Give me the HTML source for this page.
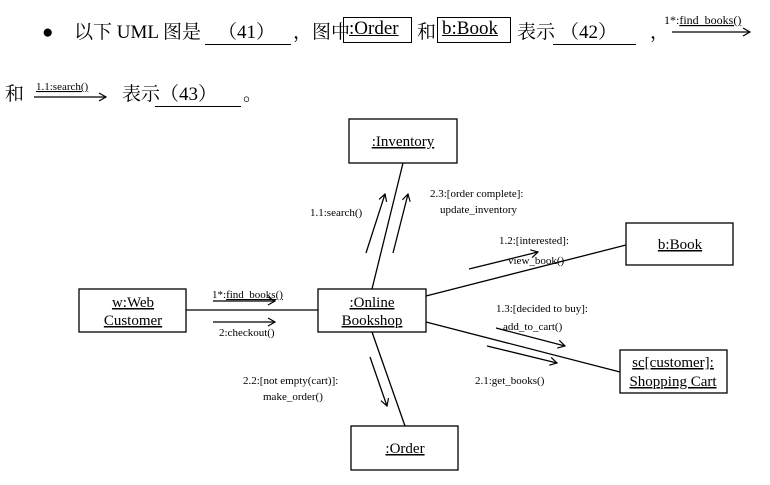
<!DOCTYPE html>
<html><head><meta charset="utf-8"><style>
body{margin:0;background:#fff;width:770px;height:485px;overflow:hidden;font-family:"Liberation Serif","Noto Serif CJK SC",serif;}
.t{position:absolutes;white-space:nowrap;color:#000}
.h{position:absolute;font-size:19px;line-height:22px;white-space:nowrap;color:#000}
.u{position:absolute;height:0;border-top:1.3px solid #000}
.b{position:absolute;border:1.3px solid #000}
</style></head><body>
<div class="h" style="left:42px;top:22px">●</div>
<div class="h" style="left:74px;top:22px">以下 UML 图是</div>
<div class="h" style="left:218px;top:22px">（41）</div>
<div class="u" style="left:205px;top:44px;width:86px"></div>
<div class="h" style="left:293px;top:22px">，图中</div>
<div class="b" style="left:343px;top:17px;width:67px;height:24px"></div>
<div class="h" style="left:349px;top:18px;text-decoration:underline">:Order</div>
<div class="h" style="left:417px;top:22px">和</div>
<div class="b" style="left:437px;top:17px;width:72px;height:24px"></div>
<div class="h" style="left:442px;top:18px;text-decoration:underline">b:Book</div>
<div class="h" style="left:517px;top:22px">表示</div>
<div class="h" style="left:560px;top:22px">（42）</div>
<div class="u" style="left:553px;top:44px;width:83px"></div>
<div class="h" style="left:650px;top:22px">，</div>
<div class="h" style="left:5px;top:84px">和</div>
<div class="h" style="left:122px;top:84px">表示</div>
<div class="h" style="left:160px;top:84px">（43）</div>
<div class="u" style="left:155px;top:106px;width:86px"></div>
<div class="h" style="left:243px;top:84px">。</div>
<svg width="770" height="485" style="position:absolute;left:0;top:0" font-family="Liberation Serif, serif">
<defs><marker id="a" markerWidth="10" markerHeight="10" refX="8" refY="5" orient="auto" markerUnits="userSpaceOnUse"><path d="M1,1 L8,5 L1,9" fill="none" stroke="#000" stroke-width="1.2"/></marker></defs>
<g stroke="#000" stroke-width="1.3" fill="none">
<line x1="672" y1="32" x2="750" y2="32" marker-end="url(#a)"/>
<line x1="34" y1="97" x2="106" y2="97" marker-end="url(#a)"/>
<rect x="349" y="119" width="108" height="44" fill="#fff"/>
<rect x="79" y="289" width="107" height="43"/>
<rect x="318" y="289" width="108" height="43"/>
<rect x="351" y="426" width="107" height="44"/>
<rect x="626" y="223" width="107" height="42"/>
<rect x="620" y="350" width="107" height="43"/>
<line x1="403" y1="163" x2="372" y2="289"/>
<line x1="186" y1="310" x2="318" y2="310"/>
<line x1="426" y1="296" x2="626" y2="245"/>
<line x1="426" y1="322" x2="620" y2="372"/>
<line x1="372" y1="332" x2="405" y2="426"/>
<line x1="366" y1="253" x2="385" y2="194" marker-end="url(#a)"/>
<line x1="393" y1="253" x2="408" y2="194" marker-end="url(#a)"/>
<line x1="213" y1="301" x2="275" y2="301" marker-end="url(#a)"/>
<line x1="213" y1="322" x2="275" y2="322" marker-end="url(#a)"/>
<line x1="370" y1="357" x2="387" y2="406" marker-end="url(#a)"/>
<line x1="469" y1="269" x2="538" y2="252" marker-end="url(#a)"/>
<line x1="496" y1="328" x2="565" y2="346" marker-end="url(#a)"/>
<line x1="487" y1="346" x2="557" y2="363" marker-end="url(#a)"/>
</g>
<g font-size="11" fill="#000">
<text x="664" y="24" font-size="12">1*:<tspan text-decoration="underline">find_books()</tspan></text>
<text x="36" y="90" font-size="11" text-decoration="underline">1.1:search()</text>
<text x="310" y="216">1.1:search()</text>
<text x="430" y="197">2.3:[order complete]:</text>
<text x="440" y="213">update_inventory</text>
<text x="499" y="244">1.2:[interested]:</text>
<text x="508" y="264">view_book()</text>
<text x="496" y="312">1.3:[decided to buy]:</text>
<text x="503" y="330">add_to_cart()</text>
<text x="475" y="384">2.1:get_books()</text>
<text x="212" y="298">1*:<tspan text-decoration="underline">find_books()</tspan></text>
<text x="219" y="336">2:checkout()</text>
<text x="243" y="384">2.2:[not empty(cart)]:</text>
<text x="263" y="400">make_order()</text>
</g>
<g font-size="15" fill="#000" text-anchor="middle" text-decoration="underline">
<text x="403" y="146">:Inventory</text>
<text x="133" y="307">w:Web</text>
<text x="133" y="325">Customer</text>
<text x="372" y="307">:Online</text>
<text x="372" y="325">Bookshop</text>
<text x="405" y="453">:Order</text>
<text x="680" y="249">b:Book</text>
<text x="673" y="367">sc[customer]:</text>
<text x="673" y="386">Shopping Cart</text>
</g>
</svg>
</body></html>
